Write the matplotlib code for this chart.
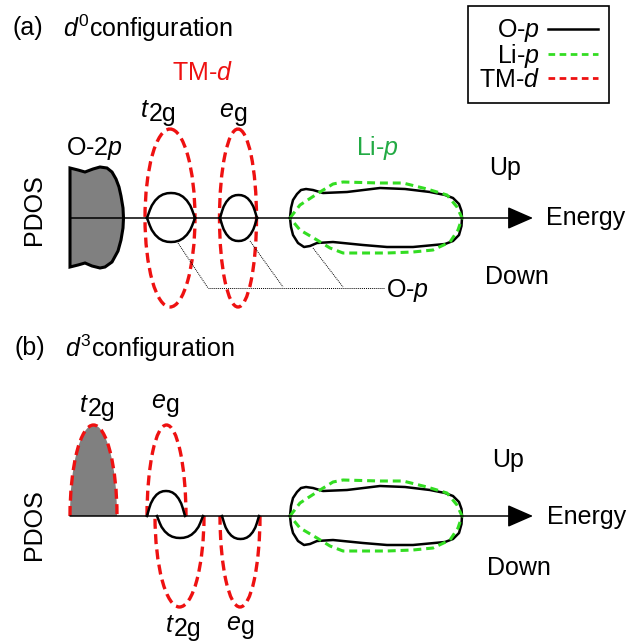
import numpy as np
import matplotlib
matplotlib.use("Agg")
import matplotlib.pyplot as plt
from matplotlib.patches import Ellipse, Arc, Rectangle
from matplotlib.lines import Line2D

plt.rcParams["font.family"] = ["Liberation Sans", "DejaVu Sans"]
plt.rcParams["mathtext.fontset"] = "custom"
plt.rcParams["mathtext.rm"] = "Liberation Sans"
plt.rcParams["mathtext.it"] = "Liberation Sans:italic"

RED = "#ee1111"
GREEN = "#33dd22"
GREEN_TXT = "#22aa44"
GRAY = "#808080"

# baselines of the two energy axes (pixel rows)
base_a = 218
base_b = 516

# O-2p band, panel (a): x, height above axis
o2p_x = [70, 78, 85, 93, 100, 107, 112, 116, 119, 121, 123, 123.5, 123, 121, 118, 112,
         105, 100, 92, 85, 78, 70]
o2p_h = [50, 48, 46, 49, 51, 50, 46, 39, 31, 22, 10, 0, -10, -22, -33, -44,
         -49, -50, -48, -45, -47, -49]

# Li-p region: O-p (solid) outline
lip_o_x = [290, 291, 293, 297, 301, 306, 313, 323, 347, 380, 405, 430, 445, 453, 459, 461.5,
           462, 461.5, 459, 453, 445, 413, 387, 363, 333, 317, 310, 304, 298, 293, 291, 290]
lip_o_h = [0, 10, 18, 24, 28, 29, 28, 25, 26, 30, 29, 26, 23, 20, 14, 7,
           0, -8, -17, -23, -26, -29, -29, -27, -24, -25, -28, -29, -25, -17, -9, 0]
# Li-p (dashed) outline
lip_l_x = [290, 300, 320, 333, 343, 380, 403, 427, 447, 457, 462, 458, 450, 433, 413, 387,
           343, 330, 317, 300, 290]
lip_l_h = [0, 13, 26, 34, 36, 35, 35, 29, 23, 11, 0, -12, -24, -32, -34, -35,
           -35, -30, -22, -12, 0]

# lens profile of the O-p peaks in the TM-d region
lens_u = [0, .03, .06, .1, .17, .25, .33, .42, .5, .58, .67, .75, .83, .9, .94, .97, 1]
lens_v = [0, .16, .32, .5, .7, .85, .94, .99, 1, .99, .94, .85, .7, .5, .32, .16, 0]

# panel (a) O-p peaks: left, right, up height, down height
peaks_a = [(147, 195, 25, 24), (220, 257, 23, 23)]
# panel (a) TM-d ellipses: center x, width, height
tmd_a = [(170, 50, 178), (238, 37, 178)]

# panel (b) O-p half peaks: left, right, height (+ up / - down)
peaks_b = [(147, 185, 25), (157, 203, -22), (222, 259, -23)]
# panel (b) TM-d half ellipses: center x, width, height, spin (+1 up, -1 down)
tmd_b = [(93.5, 47, 182, 1), (166.5, 39, 182, 1), (179.5, 49, 182, -1), (240, 40, 182, -1)]

fig = plt.figure(figsize=(6.27, 6.41), dpi=100)
ax = fig.add_axes([0, 0, 1, 1])
ax.set_xlim(0, 627)
ax.set_ylim(641, 0)
ax.axis("off")

red_ls = (0, (3, 1.6))
grn_ls = (0, (2.6, 1.6))


def energy_axis(y):
    ax.annotate("", xy=(533, y), xytext=(70, y),
                arrowprops=dict(arrowstyle="-|>,head_length=0.8,head_width=0.35",
                                lw=1.1, color="k", mutation_scale=20, shrinkA=0, shrinkB=0))


def lip(y):
    ax.plot(lip_o_x, [y - h for h in lip_o_h], color="k", lw=1.8)
    ax.plot(lip_l_x, [y - h for h in lip_l_h], color=GREEN, lw=2.2, ls=grn_ls)


def tsub(x, y, a, b):
    ax.text(x, y, a, style="italic", ha="right", va="baseline", fontsize=18)
    ax.text(x + 1, y + 4, b, ha="left", va="baseline", fontsize=18)


# ---- panel (a)
energy_axis(base_a)
ax.fill(o2p_x, [base_a - h for h in o2p_h], facecolor=GRAY, edgecolor="k", lw=2.2)
for x0, x1, hu, hd in peaks_a:
    xs = [x0 + u * (x1 - x0) for u in lens_u]
    ax.plot(xs, [base_a - v * hu for v in lens_v], color="k", lw=1.8)
    ax.plot(xs, [base_a + v * hd for v in lens_v], color="k", lw=1.8)
for cx, w, h in tmd_a:
    ax.add_patch(Ellipse((cx, base_a), w, h, fill=False, edgecolor=RED, lw=2.4, ls=red_ls))
lip(base_a)

# leader lines to the O-p label
for x0, y0, x1, y1 in [(178, 243, 208, 288), (250, 241, 283, 287), (313, 248, 343, 287)]:
    ax.plot([x0, x1], [y0, y1], color="k", lw=0.7, ls=(0, (1, 1)))
ax.plot([208, 384], [288, 288], color="k", lw=0.7, ls=(0, (1, 1)))
ax.text(386, 290, "O-$p$", fontsize=18, va="center", ha="left")

ax.text(12, 28, "(a)", fontsize=18, va="center")
ax.text(63, 28, r"$d^{\mathrm{0}}$configuration", fontsize=18, va="center")
ax.text(202, 73, "TM-$d$", fontsize=18, color=RED, ha="center", va="center")
tsub(148, 117, "t", "2g")
tsub(233, 117, "e", "g")
ax.text(94, 148, "O-2$p$", fontsize=18, ha="center", va="center")
ax.text(377, 148, "Li-$p$", fontsize=18, color=GREEN_TXT, ha="center", va="center")
ax.text(34, 210, "PDOS", fontsize=18, rotation=90, ha="center", va="center")
ax.text(505, 168, "Up", fontsize=18, ha="center", va="center")
ax.text(517, 277, "Down", fontsize=18, ha="center", va="center")
ax.text(546, 218, "Energy", fontsize=18, ha="left", va="center")

# ---- panel (b)
energy_axis(base_b)
cx, w, h, s = tmd_b[0]
fill = Ellipse((cx, base_b), w, h, facecolor=GRAY, edgecolor="none")
ax.add_patch(fill)
fill.set_clip_path(Rectangle((0, 0), 627, base_b, transform=ax.transData))
for x0, x1, hh in peaks_b:
    xs = [x0 + u * (x1 - x0) for u in lens_u]
    ax.plot(xs, [base_b - v * hh for v in lens_v], color="k", lw=1.8)
for cx, w, h, s in tmd_b:
    t1, t2 = (180, 360) if s > 0 else (0, 180)
    ax.add_patch(Arc((cx, base_b), w, h, theta1=t1, theta2=t2, edgecolor=RED, lw=2.4, ls=red_ls))
lip(base_b)

ax.text(15, 348, "(b)", fontsize=18, va="center")
ax.text(65, 348, r"$d^{\mathrm{3}}$configuration", fontsize=18, va="center")
tsub(87, 412, "t", "2g")
tsub(165, 408, "e", "g")
tsub(173, 632, "t", "2g")
tsub(240, 630, "e", "g")
ax.text(34, 525, "PDOS", fontsize=18, rotation=90, ha="center", va="center")
ax.text(508, 460, "Up", fontsize=18, ha="center", va="center")
ax.text(519, 568, "Down", fontsize=18, ha="center", va="center")
ax.text(547, 517, "Energy", fontsize=18, ha="left", va="center")

# ---- legend
handles = [Line2D([], [], color="k", lw=1.8),
           Line2D([], [], color=GREEN, lw=2.0, ls=(0, (2.4, 1.6))),
           Line2D([], [], color=RED, lw=2.0, ls=(0, (2.4, 1.6)))]
labels = ["O-$p$", "Li-$p$", "TM-$d$"]
leg = ax.legend(handles, labels, loc="upper left", bbox_to_anchor=(468 / 627, 1 - 6 / 641),
                bbox_transform=fig.transFigure, markerfirst=False, fontsize=18,
                handlelength=2.0, handletextpad=0.3, labelspacing=-0.09, borderpad=0.45,
                borderaxespad=0, fancybox=False, framealpha=1, edgecolor="k")
leg.get_frame().set_linewidth(1.2)

fig.savefig("out.png", dpi=100)
